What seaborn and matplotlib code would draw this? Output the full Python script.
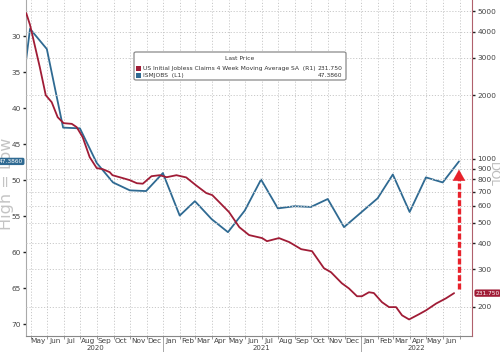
import matplotlib
matplotlib.use("Agg")
import matplotlib.pyplot as plt
import matplotlib.dates as mdates
import matplotlib.transforms as mtransforms
from matplotlib.patches import FancyBboxPatch, Rectangle
from matplotlib.ticker import FixedLocator, NullFormatter, NullLocator
import pandas as pd
import seaborn as sns

# ---------------- data ----------------
ism_dates = ["2020-03-31", "2020-04-30", "2020-05-31", "2020-06-30", "2020-07-31",
             "2020-08-31", "2020-09-30", "2020-10-31", "2020-11-30", "2020-12-31",
             "2021-01-31", "2021-02-28", "2021-03-31", "2021-04-30", "2021-05-31",
             "2021-06-30", "2021-07-31", "2021-08-31", "2021-09-30", "2021-10-31",
             "2021-11-30", "2021-12-31", "2022-01-31", "2022-02-28", "2022-03-31",
             "2022-04-30", "2022-05-31", "2022-06-30"]
ism_values = [47.0, 29.0, 31.8, 42.7, 42.8,
              47.6, 50.3, 51.4, 51.5, 49.0,
              54.9, 52.9, 55.4, 57.2, 54.2,
              49.9, 53.9, 53.6, 53.7, 52.6,
              56.5, 54.5, 52.5, 49.2, 54.4,
              49.6, 50.3, 47.386]

claims_dates = ["2020-04-23", "2020-04-30", "2020-05-18", "2020-05-29", "2020-06-09",
                "2020-06-20", "2020-07-01", "2020-07-16", "2020-07-25", "2020-08-05",
                "2020-08-18", "2020-08-31", "2020-09-11", "2020-09-24", "2020-09-29",
                "2020-10-18", "2020-10-31", "2020-11-13", "2020-11-24", "2020-12-10",
                "2020-12-25", "2021-01-07", "2021-01-25", "2021-02-12", "2021-03-02",
                "2021-03-21", "2021-04-01", "2021-04-14", "2021-05-02", "2021-05-21",
                "2021-06-08", "2021-07-02", "2021-07-11", "2021-08-02", "2021-08-21",
                "2021-09-12", "2021-10-02", "2021-10-24", "2021-11-06", "2021-11-26",
                "2021-12-09", "2021-12-24", "2022-01-02", "2022-01-15", "2022-01-24",
                "2022-02-08", "2022-02-21", "2022-03-06", "2022-03-17", "2022-03-30",
                "2022-04-17", "2022-04-30", "2022-05-19", "2022-06-06", "2022-06-21"]
claims_values = [4890, 4300, 2717, 2000, 1853,
                 1574, 1475, 1464, 1413, 1268,
                 1019, 904, 894, 865, 837,
                 811, 793, 767, 763, 828,
                 837, 819, 837, 817, 750,
                 689, 674, 624, 560, 475,
                 436, 422, 408, 422, 404,
                 374, 366, 304, 291, 258,
                 244, 224, 224, 234, 232,
                 210, 199, 199, 182, 174,
                 184, 192, 207, 219, 231.75]

left_ticks = [30, 35, 40, 45, 50, 55, 60, 65, 70]
right_ticks = [200, 300, 400, 500, 600, 700, 800, 900, 1000, 2000, 3000, 4000, 5000]
year_labels = ["2020", "2021", "2022"]
year_label_dates = ["2020-08-28", "2021-07-01", "2022-04-13"]
year_breaks = ["2021-01-01", "2022-01-01"]

legend_title = "Last Price"
claims_name = "US Initial Jobless Claims 4 Week Moving Average SA  (R1)"
ism_name = "ISMJOBS  (L1)"
claims_last = "231.750"
ism_last = "47.3860"

# ---------------- style ----------------
BLUE = "#2f6a92"
RED = "#a01c36"
ARROW_RED = "#e8222b"
GRID = "#c9c9c9"
TXT = "#444444"

sns.set_style("white")
plt.rcParams['font.family'] = ['DejaVu Sans']

W, H = 500, 352
fig = plt.figure(figsize=(W / 100, H / 100), dpi=100)
fig.patch.set_facecolor("white")
ax = fig.add_axes([26 / W, 16 / H, 446 / W, 336 / H])
ax2 = ax.twinx()

ism_df = pd.DataFrame({"date": pd.to_datetime(ism_dates), "value": ism_values})
claims_df = pd.DataFrame({"date": pd.to_datetime(claims_dates), "value": claims_values})

sns.lineplot(data=ism_df, x="date", y="value", ax=ax, color=BLUE, lw=1.3)
sns.lineplot(data=claims_df, x="date", y="value", ax=ax2, color=RED, lw=1.3)

xmin, xmax = pd.Timestamp("2020-04-22 14:00"), pd.Timestamp("2022-07-24")
ax.set_xlim(xmin, xmax)
ax.set_ylim(71.6, 25.0)
ax2.set_yscale("log")
ax2.set_ylim(145.3, 5640)

for a in (ax, ax2):
    a.set_xlabel("")
    a.set_ylabel("")

# left axis
ax.yaxis.set_major_locator(FixedLocator(left_ticks))
ax.set_yticklabels([str(t) for t in left_ticks])
ax.tick_params(axis="y", which="major", left=True, length=2.5, width=1.0, color="#222222",
               labelsize=5.3, labelcolor=TXT, pad=1)

# right axis
ax2.yaxis.set_major_locator(FixedLocator(right_ticks))
ax2.yaxis.set_minor_locator(NullLocator())
ax2.set_yticklabels([str(t) for t in right_ticks])
ax2.tick_params(axis="y", which="major", right=True, length=2.5, width=1.0, color="#222222",
                labelsize=5.3, labelcolor=TXT, pad=1.5)
ax2.grid(axis="y", which="major", color=GRID, ls=(0, (1.2, 1.8)), lw=0.7)

# x axis: month boundaries (grid + ticks) and mid-month labels
month_starts = pd.date_range("2020-05-01", "2022-07-01", freq="MS")
month_mids = pd.date_range("2020-05-01", "2022-06-01", freq="MS") + pd.Timedelta(days=14)
ax.xaxis.set_major_locator(FixedLocator(mdates.date2num(month_starts)))
ax.xaxis.set_major_formatter(NullFormatter())
ax.xaxis.set_minor_locator(FixedLocator(mdates.date2num(month_mids)))
ax.xaxis.set_minor_formatter(mdates.DateFormatter("%b"))
ax.tick_params(axis="x", which="major", bottom=True, length=2, width=0.6, color="#888888")
ax.tick_params(axis="x", which="minor", bottom=False, length=0, labelsize=5.3,
               labelcolor=TXT, pad=1.5)
ax.grid(axis="x", which="major", color=GRID, ls=(0, (1.2, 1.8)), lw=0.7)
ax2.tick_params(axis="x", which="both", bottom=False, labelbottom=False)

# spines
for a in (ax, ax2):
    a.spines["top"].set_visible(False)
ax.spines["left"].set_color("#aaaaaa")
ax.spines["bottom"].set_color("#888888")
ax.spines["right"].set_visible(False)
ax2.spines["left"].set_visible(False)
ax2.spines["bottom"].set_visible(False)
ax2.spines["right"].set_color("#b0606c")
for s in ("left", "bottom"):
    ax.spines[s].set_linewidth(0.8)
ax2.spines["right"].set_linewidth(0.8)

# year separators and labels
trans_x = mtransforms.blended_transform_factory(ax.transData, ax.transAxes)
for d in year_breaks:
    dn = mdates.date2num(pd.Timestamp(d))
    ax.plot([dn, dn], [0, -0.06], transform=trans_x, clip_on=False, color="#999999", lw=0.6)
for lab, d in zip(year_labels, year_label_dates):
    ax.text(mdates.date2num(pd.Timestamp(d)), -0.036, lab, transform=trans_x,
            ha="center", va="center", fontsize=5.0, color=TXT)

# axis side titles (behind the axes so the value tag sits on top)
fig.text(7 / W, 1 - 184 / H, "High = Low", rotation=90, ha="center", va="center",
         fontsize=11.5, color="#c4c4c4", zorder=-1)
fig.text(493 / W, 1 - 174 / H, "DOL", rotation=270, ha="center", va="center",
         fontsize=8.5, color="#bdbdbd", zorder=-1)

# last-value tags
tl = mtransforms.blended_transform_factory(ax.transAxes, ax.transData)
ax.text(-0.006, ism_values[-1], ism_last, transform=tl, ha="right", va="center",
        fontsize=4.2, color="white", clip_on=False, zorder=20,
        bbox=dict(boxstyle="round,pad=0.2,rounding_size=0.3", fc=BLUE, ec="none"))
tr = mtransforms.blended_transform_factory(ax2.transAxes, ax2.transData)
ax2.text(1.008, claims_values[-1], claims_last, transform=tr, ha="left", va="center",
         fontsize=4.2, color="white", clip_on=False, zorder=20,
         bbox=dict(boxstyle="round,pad=0.2,rounding_size=0.3", fc=RED, ec="none"))

# red dashed arrow
arrow_date = mdates.date2num(pd.Timestamp("2022-06-30"))
ax2.plot([arrow_date, arrow_date], [243, 800], color=ARROW_RED, lw=2.4,
         ls=(0, (1.8, 0.7)), solid_capstyle="butt", dash_capstyle="butt")
ax2.annotate("", xy=(arrow_date, 890), xytext=(arrow_date, 780),
             arrowprops=dict(arrowstyle="-|>,head_length=0.8,head_width=0.45",
                             color=ARROW_RED, lw=0.1, shrinkA=0, shrinkB=0,
                             mutation_scale=10))

# legend box
def fx(px):
    return px / W

def fy(py):
    return 1 - py / H

box = FancyBboxPatch((fx(134), fy(80)), fx(212), 28 / H,
                     boxstyle="round,pad=0,rounding_size=0.004",
                     transform=fig.transFigure, fc="white", ec="#8a8a8a", lw=0.9, zorder=10)
fig.add_artist(box)
lfont = dict(fontsize=4.3, color="#333333", zorder=11)
fig.text(fx(240), fy(59), legend_title, ha="center", va="center", **lfont)
fig.add_artist(Rectangle((fx(136), fy(71)), 5 / W, 5 / H, transform=fig.transFigure,
                         fc=RED, ec="none", zorder=11))
fig.add_artist(Rectangle((fx(136), fy(78)), 5 / W, 5 / H, transform=fig.transFigure,
                         fc=BLUE, ec="none", zorder=11))
fig.text(fx(143), fy(68.5), claims_name, ha="left", va="center", **lfont)
fig.text(fx(342), fy(68.5), claims_last, ha="right", va="center", **lfont)
fig.text(fx(143), fy(75.5), ism_name, ha="left", va="center", **lfont)
fig.text(fx(342), fy(75.5), ism_last, ha="right", va="center", **lfont)

fig.savefig("out.png", dpi=100, facecolor="white")
